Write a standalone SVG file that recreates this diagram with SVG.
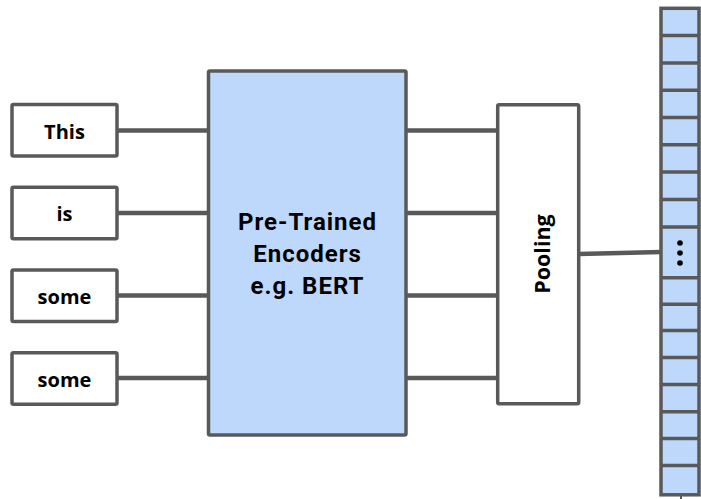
<svg xmlns="http://www.w3.org/2000/svg" width="701" height="499" viewBox="0 0 701 499">
<style>
.box{fill:#ffffff;stroke:#595959;stroke-width:3.5}
.enc{fill:#bdd8fb;stroke:#595959;stroke-width:3.5}
.cell{fill:#bdd8fb;stroke:#595959;stroke-width:3.5}
.ln{stroke:#595959;stroke-width:4.5;fill:none}
.lbl{font-family:"Open Sans","DejaVu Sans",sans-serif;font-weight:bold;font-size:20px;fill:#000000;text-anchor:middle}
.pool{font-family:"Open Sans","DejaVu Sans",sans-serif;font-weight:bold;font-size:21.5px;fill:#000000;text-anchor:middle}
.enct{font-family:Roboto,"Liberation Sans",sans-serif;font-weight:bold;font-size:24px;letter-spacing:1px;fill:#000000;text-anchor:middle}
</style>
<rect width="701" height="499" fill="#ffffff"/>
<g id="connectors">
<line class="ln" x1="117" y1="130.5" x2="208.5" y2="130.5"/>
<line class="ln" x1="117" y1="213" x2="208.5" y2="213"/>
<line class="ln" x1="117" y1="295.5" x2="208.5" y2="295.5"/>
<line class="ln" x1="117" y1="378" x2="208.5" y2="378"/>
<line class="ln" x1="406" y1="130.5" x2="497.7" y2="130.5"/>
<line class="ln" x1="406" y1="213" x2="497.7" y2="213"/>
<line class="ln" x1="406" y1="295.5" x2="497.7" y2="295.5"/>
<line class="ln" x1="406" y1="378" x2="497.7" y2="378"/>
<line class="ln" x1="578.7" y1="254" x2="661" y2="252"/>
<line class="ln" x1="681" y1="496" x2="681" y2="499" style="stroke-width:2"/>
</g>
<g id="tok-this">
<rect class="box" x="12" y="104.5" width="105" height="51.5" rx="1.5"/>
<text class="lbl" x="64.5" y="138.5">This</text>
</g>
<g id="tok-is">
<rect class="box" x="12" y="187.3" width="105" height="51.5" rx="1.5"/>
<text class="lbl" x="64.5" y="221.3">is</text>
</g>
<g id="tok-some1">
<rect class="box" x="12" y="270" width="105" height="51.5" rx="1.5"/>
<text class="lbl" x="64.5" y="304">some</text>
</g>
<g id="tok-some2">
<rect class="box" x="12" y="352.7" width="105" height="51.5" rx="1.5"/>
<text class="lbl" x="64.5" y="386.7">some</text>
</g>
<g id="encoder">
<rect class="enc" x="208.5" y="71" width="197.5" height="364" rx="1.5"/>
<text class="enct" x="307.5" y="230">Pre-Trained</text>
<text class="enct" x="307.5" y="262">Encoders</text>
<text class="enct" x="307.5" y="294">e.g. BERT</text>
</g>
<g id="pooling">
<rect class="box" x="497.7" y="104.7" width="81" height="299" rx="1.5"/>
<text class="pool" transform="translate(550 254) rotate(-90)" x="0" y="0">Pooling</text>
</g>
<g id="vector">
<rect class="cell" x="661" y="8.3" width="38" height="486.5"/>
<g style="stroke:#595959;stroke-width:3.5">
<line x1="661" y1="35.6" x2="699" y2="35.6"/>
<line x1="661" y1="62.9" x2="699" y2="62.9"/>
<line x1="661" y1="90.2" x2="699" y2="90.2"/>
<line x1="661" y1="117.5" x2="699" y2="117.5"/>
<line x1="661" y1="144.8" x2="699" y2="144.8"/>
<line x1="661" y1="172.1" x2="699" y2="172.1"/>
<line x1="661" y1="199.4" x2="699" y2="199.4"/>
<line x1="661" y1="227" x2="699" y2="227"/>
<line x1="661" y1="277.7" x2="699" y2="277.7"/>
<line x1="661" y1="304.2" x2="699" y2="304.2"/>
<line x1="661" y1="330.6" x2="699" y2="330.6"/>
<line x1="661" y1="357.5" x2="699" y2="357.5"/>
<line x1="661" y1="384.5" x2="699" y2="384.5"/>
<line x1="661" y1="411.7" x2="699" y2="411.7"/>
<line x1="661" y1="438.5" x2="699" y2="438.5"/>
<line x1="661" y1="465.5" x2="699" y2="465.5"/>
</g>
<circle cx="680" cy="243" r="2.8" fill="#000"/>
<circle cx="680" cy="253" r="2.8" fill="#000"/>
<circle cx="680" cy="263" r="2.8" fill="#000"/>
</g>
</svg>
